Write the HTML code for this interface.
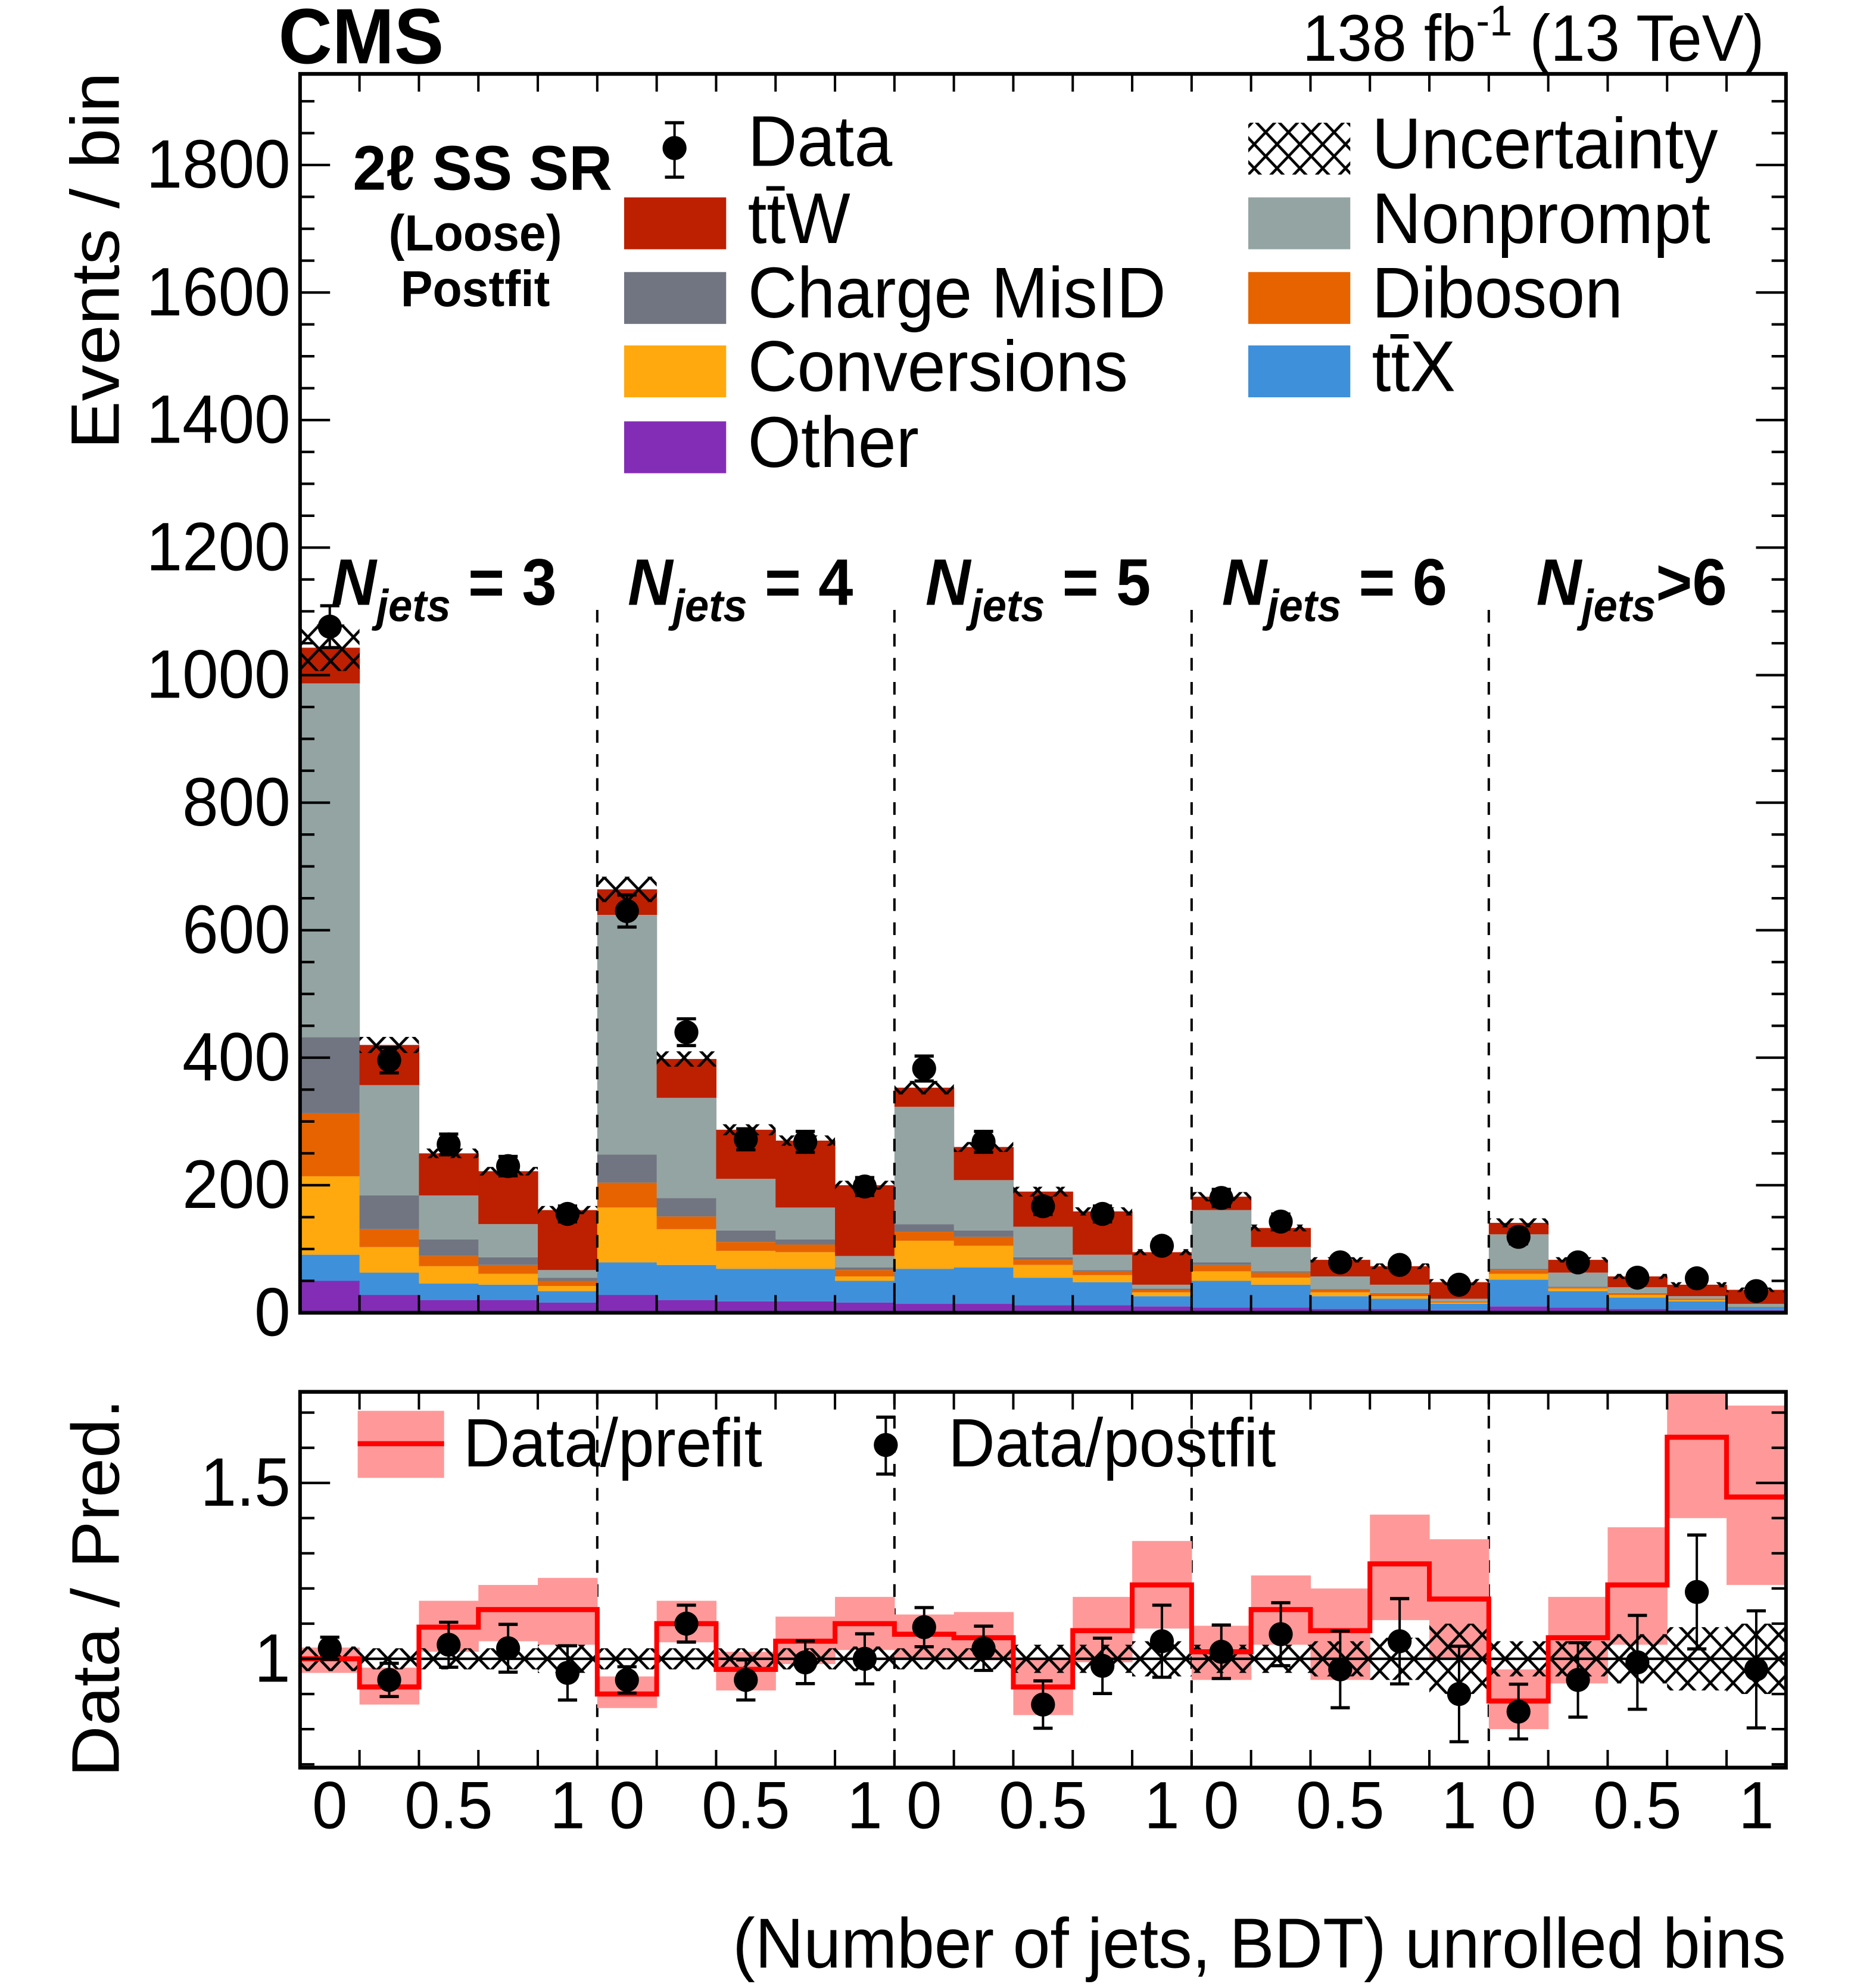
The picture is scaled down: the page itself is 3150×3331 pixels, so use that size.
<!DOCTYPE html>
<html><head><meta charset="utf-8"><style>
html,body{margin:0;padding:0;background:#fff}
svg{display:block}
text{font-family:"Liberation Sans",Arial,sans-serif;fill:#000}
</style></head><body>
<svg id="chart" xmlns="http://www.w3.org/2000/svg" width="3150" height="3331" viewBox="0 0 1563 1568" preserveAspectRatio="none">
<defs>
<pattern id="hatch" patternUnits="userSpaceOnUse" width="19" height="19">
<path d="M0,0L19,19M19,0L0,19" stroke="#000" stroke-width="2.2"/>
</pattern>
</defs>
<g id="main"></g>
<g id="ratio"></g>
<text x="232" y="50" font-size="62" font-weight="bold">CMS</text>
<text x="1470" y="48" font-size="52" text-anchor="end">138 fb<tspan dy="-20" font-size="34">-1</tspan><tspan dy="20"> (13 TeV)</tspan></text>
<text transform="translate(99,206) rotate(-90)" font-size="57" text-anchor="middle">Events / bin</text>
<text transform="translate(99,1255) rotate(-90)" font-size="56" text-anchor="middle">Data / Pred.</text>
<text x="1488" y="1555" font-size="56" text-anchor="end">(Number of jets, BDT) unrolled bins</text>
<text x="402" y="150" font-size="50" font-weight="bold" text-anchor="middle">2ℓ SS SR</text>
<text x="396" y="198" font-size="40" font-weight="bold" text-anchor="middle">(Loose)</text>
<text x="396" y="242" font-size="40" font-weight="bold" text-anchor="middle">Postfit</text>
<g id="legend"></g>
</svg>
<script>
const categories=["3","4","5","6",">6"];
const other=[50,28,20,20,16, 28,20,18,18,16, 14,14,12,12,10, 8,8,6,6,4, 10,8,6,4,4];
const ttX=[41,35,26,24,18, 51,55,51,51,34, 55,57,43,36,16, 42,36,20,16,10, 42,26,18,14,6];
const conversions=[123,40,27,17,8, 86,56,28,26,7, 44,34,20,11,6, 15,11,6,4,2, 9,4,4,2,1];
const diboson=[99,28,16,14,8, 39,20,14,12,10, 14,14,8,6,4, 10,8,4,4,2, 6,2,2,2,1];
const chargeMisID=[119,53,26,12,5, 44,29,18,8,4, 12,10,4,2,2, 4,2,1,1,0, 2,1,1,0,0];
const nonprompt=[555,173,69,52,12, 376,157,81,50,18, 184,79,48,24,6, 82,38,20,13,4, 54,22,9,4,2];
const ttW=[56,63,66,83,94, 40,61,77,105,111, 30,52,55,68,51, 21,30,26,29,26, 18,20,17,18,22];
const dataCounts=[1076,396,264,230,155, 630,440,272,268,198, 383,268,167,155,105, 180,143,79,75,44, 119,79,55,54,34];
const relUnc=[0.035,0.03,0.03,0.03,0.04, 0.03,0.03,0.03,0.03,0.035, 0.03,0.03,0.04,0.04,0.05, 0.04,0.04,0.05,0.06,0.1, 0.05,0.05,0.07,0.09,0.1];
const prefitRatio=[1.0,0.92,1.09,1.14,1.14, 0.90,1.10,0.97,1.05,1.10, 1.07,1.06,0.92,1.08,1.21, 1.02,1.14,1.08,1.27,1.17, 0.88,1.06,1.21,1.63,1.46];
const prefitLo=[0.96,0.87,1.02,1.05,1.04, 0.86,1.047,0.91,0.985,1.025, 1.0,0.996,0.84,0.99,1.086, 0.94,1.04,0.94,1.11,1.0, 0.80,0.93,1.04,1.40,1.21];
const prefitHi=[1.032,0.975,1.165,1.21,1.23, 0.95,1.165,1.02,1.12,1.176, 1.126,1.133,1.0,1.176,1.335, 1.094,1.237,1.2,1.41,1.34, 0.97,1.176,1.374,1.76,1.72];
const postfitRatio=[1.03,0.94,1.04,1.03,0.96, 0.94,1.10,0.94,0.99,1.0, 1.09,1.03,0.87,0.98,1.05, 1.02,1.07,0.97,1.05,0.90, 0.85,0.94,0.99,1.19,0.97];
const yTicks=[0,200,400,600,800,1000,1200,1400,1600,1800];
const ratioTicks=[1,1.5];
const xTickLabels=["0","0.5","1"];

const NS="http://www.w3.org/2000/svg";
const X0=250,X1=1488,NB=25,BW=(X1-X0)/NB;
const MT=58.4,MB=1037.5,Y1800=130.4;
const RT=1100,RB=1397,R1=1311,RS=278;
const RMAX=1+(R1-RT)/RS,RMIN=1-(RB-R1)/RS;
function xb(i){return X0+i*BW;}
function ym(v){return MB-v*(MB-Y1800)/1800;}
function yr(v){return R1-(v-1)*RS;}
function mk(tag,attrs,parent){const e=document.createElementNS(NS,tag);for(const k in attrs)e.setAttribute(k,attrs[k]);parent.appendChild(e);return e;}
const main=document.getElementById('main'),ratio=document.getElementById('ratio'),leg=document.getElementById('legend');
const procs=[[other,'#832db6','other'],[ttX,'#3f90da','ttx'],[conversions,'#ffa90e','conversions'],[diboson,'#e76300','diboson'],[chargeMisID,'#717581','charge-misid'],[nonprompt,'#94a4a2','nonprompt'],[ttW,'#bd1f01','ttw']];
const totals=[];
for(let i=0;i<NB;i++){
  let cum=0;
  for(const [arr,col,nm] of procs){
    const r=mk('rect',{x:xb(i),y:ym(cum+arr[i]),width:BW+0.3,height:ym(cum)-ym(cum+arr[i]),fill:col},main);
    
    
    cum+=arr[i];
  }
  totals.push(cum);
}
for(let i=0;i<NB;i++){
  const t=totals[i],u=t*relUnc[i];
  const r=mk('rect',{x:xb(i),y:ym(t+u),width:BW,height:ym(t-u)-ym(t+u),fill:'url(#hatch)'},main);
  
  
}
function point(parent,cx,cy,ylo,yhi,name){
  const g=mk('g',{},parent);
  
  
  mk('line',{x1:cx,x2:cx,y1:ylo,y2:yhi,stroke:'#000','stroke-width':2},g);
  mk('line',{x1:cx-8,x2:cx+8,y1:ylo,y2:ylo,stroke:'#000','stroke-width':2.5},g);
  mk('line',{x1:cx-8,x2:cx+8,y1:yhi,y2:yhi,stroke:'#000','stroke-width':2.5},g);
  mk('ellipse',{cx:cx,cy:cy,rx:10,ry:9.5,fill:'#000'},g);
}
for(let i=0;i<NB;i++){
  const d=dataCounts[i],e=Math.sqrt(d);
  point(main,xb(i)+BW/2,ym(d),ym(d-e),ym(d+e),'data-point-'+i);
}
for(let k=1;k<5;k++){
  const x=xb(k*5);
  const l1=mk('line',{x1:x,x2:x,y1:482,y2:MB,stroke:'#000','stroke-width':2,'stroke-dasharray':'10,9'},main);
  
  
  const l2=mk('line',{x1:x,x2:x,y1:RT,y2:RB,stroke:'#000','stroke-width':2,'stroke-dasharray':'10,9'},ratio);
  
  
}
const nxs=[276,523,771,1018,1280];
for(let k=0;k<5;k++){
  const t=mk('text',{x:nxs[k],y:478,'font-size':52,'font-weight':'bold','font-style':'italic'},main);
  
  
  const isGt=categories[k].startsWith('>');
  t.innerHTML='N<tspan dy="13" font-size="36">jets</tspan><tspan dy="-13" font-style="normal">'+(isGt?'':' = ')+categories[k]+'</tspan>';
}
function frame(parent,top,bot,name){
  const r=mk('rect',{x:X0,y:top,width:X1-X0,height:bot-top,fill:'none',stroke:'#000','stroke-width':3},parent);
  
  
  for(let i=1;i<NB;i++){
    mk('line',{x1:xb(i),x2:xb(i),y1:top,y2:top+14,stroke:'#000','stroke-width':2},parent);
    mk('line',{x1:xb(i),x2:xb(i),y1:bot,y2:bot-14,stroke:'#000','stroke-width':2},parent);
  }
}
frame(main,MT,MB,'main-axes-frame');
for(let v=0;v<=1900;v+=50){
  const y=ym(v); if(y<MT)break;
  const L=(v%200===0)?25:12;
  mk('line',{x1:X0,x2:X0+L,y1:y,y2:y,stroke:'#000','stroke-width':2},main);
  mk('line',{x1:X1,x2:X1-L,y1:y,y2:y,stroke:'#000','stroke-width':2},main);
}
yTicks.forEach(v=>{
  const t=mk('text',{x:242,y:ym(v)+18,'font-size':54,'text-anchor':'end'},main);
  
  
  t.textContent=String(v);
});
for(let i=0;i<NB;i++){
  const hi=Math.min(prefitHi[i],RMAX),lo=Math.max(prefitLo[i],RMIN);
  const r=mk('rect',{x:xb(i),y:yr(hi),width:BW+0.3,height:yr(lo)-yr(hi),fill:'#ff9999'},ratio);
  
  
}
mk('line',{x1:X0,x2:X1,y1:yr(1),y2:yr(1),stroke:'#000','stroke-width':2},ratio);
for(let i=0;i<NB;i++){
  const r=mk('rect',{x:xb(i),y:yr(1+relUnc[i]),width:BW,height:yr(1-relUnc[i])-yr(1+relUnc[i]),fill:'url(#hatch)'},ratio);
  
  
}
let d='';
for(let i=0;i<NB;i++){
  const y=Math.max(yr(prefitRatio[i]),RT);
  d+=(i===0?'M':'L')+xb(i)+','+y+'L'+xb(i+1)+','+y;
}
const pl=mk('path',{d:d,fill:'none',stroke:'#ff0000','stroke-width':4},ratio);


for(let i=0;i<NB;i++){
  const r=postfitRatio[i],e=r/Math.sqrt(dataCounts[i]);
  point(ratio,xb(i)+BW/2,yr(r),Math.min(yr(r-e),RB),Math.max(yr(r+e),RT),'ratio-point-'+i);
}
frame(ratio,RT,RB,'ratio-axes-frame');
for(let v=0.7;v<=1.76;v+=0.1){
  const y=yr(v); if(y>RB||y<RT)continue;
  const major=Math.abs(v-1)<1e-6||Math.abs(v-1.5)<1e-6;
  const L=major?25:12;
  mk('line',{x1:X0,x2:X0+L,y1:y,y2:y,stroke:'#000','stroke-width':2},ratio);
  mk('line',{x1:X1,x2:X1-L,y1:y,y2:y,stroke:'#000','stroke-width':2},ratio);
}
ratioTicks.forEach(v=>{
  const t=mk('text',{x:242,y:yr(v)+18,'font-size':54,'text-anchor':'end'},ratio);
  
  
  t.textContent=String(v);
});
for(let k=0;k<5;k++){
  xTickLabels.forEach((lab,j)=>{
    const t=mk('text',{x:xb(k*5+j*2)+BW/2,y:1445,'font-size':53,'text-anchor':'middle'},ratio);
    
    
    t.textContent=lab;
  });
}
const rb=mk('rect',{x:298,y:1115,width:72,height:53,fill:'#ff9999'},ratio);


mk('line',{x1:298,x2:370,y1:1141,y2:1141,stroke:'#ff0000','stroke-width':4},ratio);
const rt1=mk('text',{x:386,y:1159,'font-size':54},ratio);


rt1.textContent='Data/prefit';
point(ratio,738,1142,1165,1120,'legend-postfit-marker');
const rt2=mk('text',{x:790,y:1159,'font-size':54},ratio);


rt2.textContent='Data/postfit';
point(leg,562,117,140,97,'legend-data-marker');
const entries=[[520,156,'#bd1f01','tt̄W','ttw'],[520,215,'#717581','Charge MisID','charge-misid'],[520,273,'#ffa90e','Conversions','conversions'],[520,333,'#832db6','Other','other'],
[1040,156,'#94a4a2','Nonprompt','nonprompt'],[1040,215,'#e76300','Diboson','diboson'],[1040,273,'#3f90da','tt̄X','ttx'],[1040,97,'url(#hatch)','Uncertainty','uncertainty']];
const dt=mk('text',{x:623,y:131,'font-size':57},leg);


dt.textContent='Data';
entries.forEach(([x,y,c,lab,nm])=>{
  const r=mk('rect',{x:x,y:y,width:85,height:41,fill:c},leg);
  
  
  const t=mk('text',{x:x+103,y:y+36,'font-size':57},leg);
  
  
  t.textContent=lab;
});
</script>
</body></html>
